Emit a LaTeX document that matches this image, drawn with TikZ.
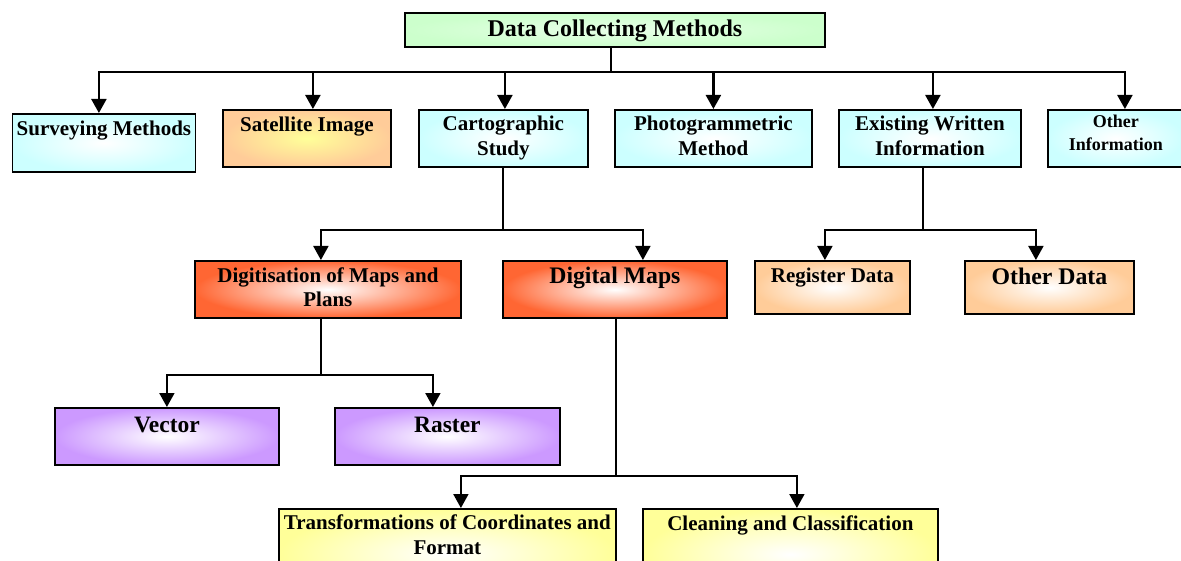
\documentclass[tikz,border=0pt]{standalone}
\usepackage{fontspec}
\setmainfont{Liberation Serif}
\usetikzlibrary{arrows.meta}

\definecolor{mintfill}{HTML}{CCFFCC}
\definecolor{cyanfill}{HTML}{CCFFFF}
\definecolor{peachfill}{HTML}{FFCC99}
\definecolor{sunfill}{HTML}{FFFF99}
\definecolor{flamefill}{HTML}{FF6633}
\definecolor{lilacfill}{HTML}{CC99FF}
\definecolor{lemonfill}{HTML}{FFFF99}

\newcommand{\fsz}[2]{\fontsize{#1}{#2}\selectfont\bfseries}
\newcommand{\twolines}[2]{\begin{tabular}[t]{@{}c@{}}#1\\#2\end{tabular}}

\begin{document}
\begin{tikzpicture}[x=1pt, y=-1pt,
        box/.style={draw, line width=1.8pt, inner sep=0pt, anchor=north west, shading=radial, inner color=white},
        main/.style={line width=2.2pt},
        wire/.style={line width=1.8pt},
        tip/.style={-{Triangle[width=15pt, length=14pt]}}]
    \useasboundingbox (0,0) rectangle (1181,561);
    \clip (0,0) rectangle (1181,561);

        \node[box, inner color=mintfill!45, outer color=mintfill, minimum width=420pt, text height=24pt, text depth=10pt, font=\fsz{24}{28}] (title) at (404,12) {Data Collecting Methods};

        % first row
        \node[box, outer color=cyanfill, minimum width=183pt, text height=22pt, text depth=36pt, font=\fsz{21}{25}] (surv) at (11.5,113) {Surveying Methods};
        \node[box, inner color=sunfill, outer color=peachfill, minimum width=168pt, text height=22pt, text depth=35pt, font=\fsz{21}{25}] (sat) at (222,109) {Satellite Image};
        \node[box, outer color=cyanfill, minimum width=169pt, text height=21pt, text depth=36pt, font=\fsz{21}{25}] (carto) at (418,109) {\twolines{Cartographic}{Study}};
        \node[box, outer color=cyanfill, minimum width=197pt, text height=21pt, text depth=36pt, font=\fsz{21}{25}] (photo) at (614,109) {\twolines{Photogrammetric}{Method}};
        \node[box, outer color=cyanfill, minimum width=182pt, text height=21pt, text depth=36pt, font=\fsz{21}{25}] (exist) at (838,109) {\twolines{Existing Written}{Information}};
        \node[box, outer color=cyanfill, minimum width=136pt, text height=18pt, text depth=39pt, font=\fsz{18}{22.6}] (other) at (1047,109) {\twolines{Other}{Information}};

        % second row
        \node[box, outer color=flamefill, minimum width=266pt, text height=22pt, text depth=35pt, font=\fsz{21}{24}] (digit) at (194,260) {\twolines{Digitisation of Maps and}{Plans}};
        \node[box, outer color=flamefill, minimum width=224pt, text height=23pt, text depth=34pt, font=\fsz{23.7}{28}] (dmaps) at (502,260) {Digital Maps};
        \node[box, outer color=peachfill, minimum width=155pt, text height=22pt, text depth=31pt, font=\fsz{21}{25}] (reg) at (754,260) {Register Data};
        \node[box, outer color=peachfill, minimum width=169pt, text height=24pt, text depth=29pt, font=\fsz{23.8}{28}] (odata) at (964,260) {Other Data};

        % third row
        \node[box, outer color=lilacfill, minimum width=224pt, text height=25pt, text depth=32pt, font=\fsz{23.5}{28}] (vect) at (54,407) {Vector};
        \node[box, outer color=lilacfill, minimum width=225pt, text height=25pt, text depth=32pt, font=\fsz{23.5}{28}] (rast) at (334,407) {Raster};
        \node[box, outer color=lemonfill, minimum width=337pt, text height=21pt, text depth=70pt, font=\fsz{21}{25}] (trans) at (278,508) {\twolines{Transformations of Coordinates and}{Format}};
        \node[box, outer color=lemonfill, minimum width=295pt, text height=22pt, text depth=69pt, font=\fsz{21}{25}] (clean) at (642,508) {Cleaning and Classification};

        % connectors
        \coordinate (hub1) at ([xshift=-4pt, yshift=-24pt]title.south);
        \draw[main] (title.south -| hub1) -- (hub1);
        \foreach \kid/\dx in {surv/-5, sat/6, carto/1.5, photo/0, exist/3, other/9}
            \draw[main, tip] (hub1) -| ([xshift=\dx pt]\kid.north);

        \coordinate (hub2) at ([xshift=-0.5pt, yshift=-62pt]carto.south);
        \draw[wire] (carto.south -| hub2) -- (hub2);
        \draw[wire, tip] (hub2) -| ([xshift=-7pt]digit.north);
        \draw[wire, tip] (hub2) -| ([xshift=28pt]dmaps.north);

        \coordinate (hub3) at ([xshift=-7pt, yshift=-62pt]exist.south);
        \draw[wire] (exist.south -| hub3) -- (hub3);
        \draw[wire, tip] (hub3) -| ([xshift=-7.5pt]reg.north);
        \draw[wire, tip] (hub3) -| ([xshift=-13.5pt]odata.north);

        \coordinate (hub4) at ([xshift=-7pt, yshift=-56pt]digit.south);
        \draw[wire] (digit.south -| hub4) -- (hub4);
        \draw[wire, tip] (hub4) -| (vect.north);
        \draw[wire, tip] (hub4) -| ([xshift=-14.5pt]rast.north);

        \coordinate (hub5) at ([xshift=1pt, yshift=-157pt]dmaps.south);
        \draw[wire] (dmaps.south -| hub5) -- (hub5);
        \draw[wire, tip] (hub5) -| ([xshift=13.5pt]trans.north);
        \draw[wire, tip] (hub5) -| ([xshift=6.5pt]clean.north);
    \end{tikzpicture}
\end{document}
